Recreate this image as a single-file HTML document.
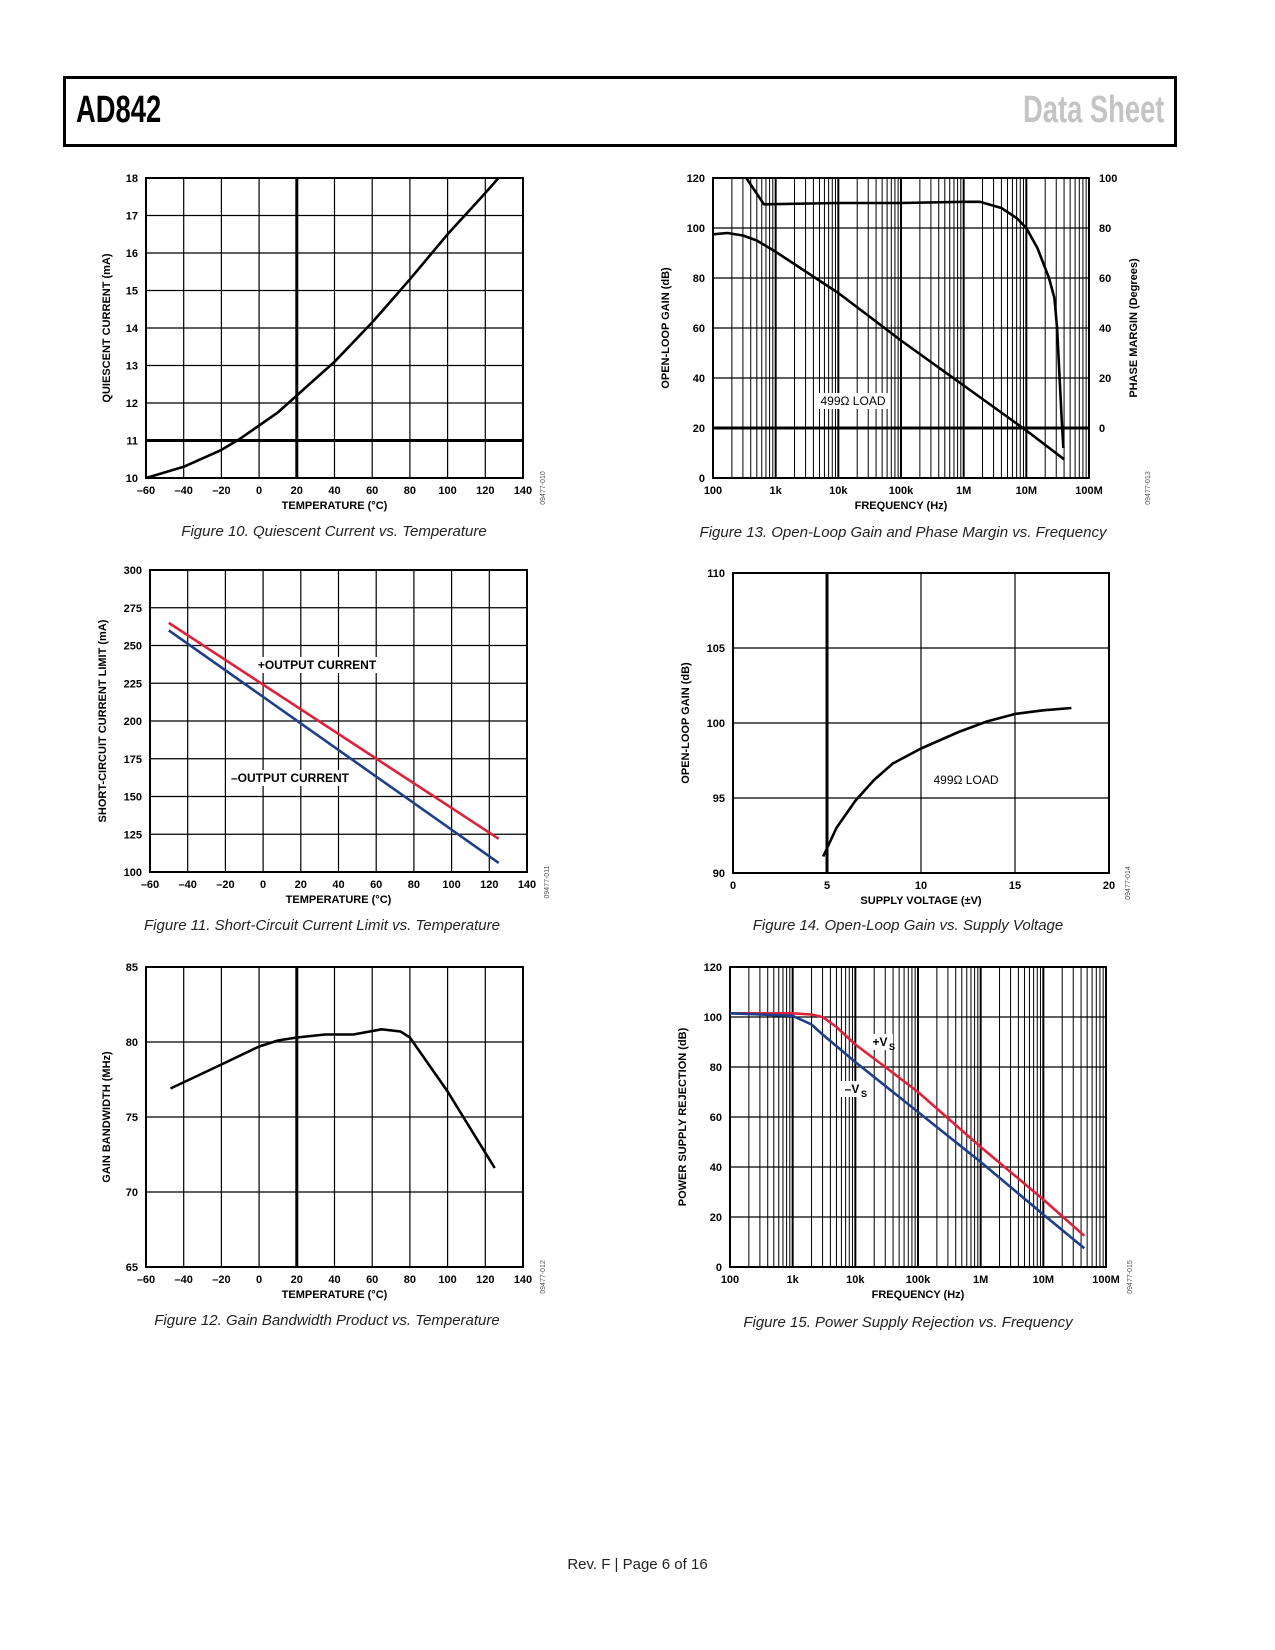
<!DOCTYPE html>
<html><head><meta charset="utf-8"><style>
body{margin:0;background:#fff;width:1275px;height:1650px;position:relative;overflow:hidden;font-family:"Liberation Sans",sans-serif}
#hdr{position:absolute;left:63px;top:76px;width:1108px;height:65px;border:3px solid #000;box-sizing:content-box}
#hdr .l{position:absolute;left:10px;top:10px;font:bold 38px "Liberation Sans Narrow","Liberation Sans",sans-serif;color:#000;transform:scaleX(0.72);transform-origin:left center}
#hdr .r{position:absolute;right:10px;top:10px;font:bold 38px "Liberation Sans Narrow","Liberation Sans",sans-serif;color:#c4c4c4;transform:scaleX(0.72);transform-origin:right center}
#foot{position:absolute;left:0;width:1275px;top:1556px;text-align:center;font-size:15px;color:#222}
svg{position:absolute;left:0;top:0}
</style></head><body>
<div id="hdr"><span class="l">AD842</span><span class="r">Data Sheet</span></div>
<div id="foot">Rev. F | Page 6 of 16</div>
<svg id="s" width="1275" height="1650"></svg>
<script>
// Figure 10
const f10Temp=[-60,-40,-20,-10,0,10,20,30,40,60,80,100,120,127];
const f10Current=[10,10.3,10.75,11.05,11.4,11.75,12.2,12.65,13.1,14.15,15.3,16.5,17.6,18];
// Figure 11
const f11Temp=[-50,125];
const f11Plus=[265,122];
const f11Minus=[260,106];
// Figure 12
const f12Temp=[-47,-20,0,10,20,35,50,65,75,80,100,125];
const f12GBW=[76.9,78.5,79.7,80.1,80.3,80.5,80.5,80.85,80.7,80.3,76.7,71.6];
// Figure 13
const f13GainFreq=[100,170,300,500,1000,1e4,1e5,1e6,1e7,4e7];
const f13Gain=[97.5,98,97,95,90.5,74,55,37,19,7.5];
const f13PhaseFreq=[340,650,1e4,1e5,1e6,1.8e6,4e6,7e6,1e7,1.5e7,2.3e7,2.8e7,3.1e7,3.4e7,3.7e7,3.9e7];
const f13Phase=[100,89.5,90,90,90.5,90.5,88,84,80,72,60,52,40,20,2,-8];
// Figure 14
const f14Volt=[4.8,5.5,6.5,7.5,8.5,10,12,13.5,15,16.5,18];
const f14Gain=[91.1,93,94.8,96.2,97.3,98.3,99.4,100.1,100.6,100.85,101];
// Figure 15
const f15PlusFreq=[100,1000,2000,3000,5000,1e4,3e4,1e5,1e6,1e7,4.5e7];
const f15Plus=[101.5,101.5,101,100,96,89,80,70,48,27,12.5];
const f15MinusFreq=[100,1000,2000,3000,1e4,1e5,1e6,1e7,4.5e7];
const f15Minus=[101.5,100.5,97,93,82,62,42,21,7.5];
const tempTicks=[-60,-40,-20,0,20,40,60,80,100,120,140];
const tempTickLabels=['–60','–40','–20','0','20','40','60','80','100','120','140'];
const freqTickLabels=['100','1k','10k','100k','1M','10M','100M'];

const S=document.getElementById('s');
const NS='http://www.w3.org/2000/svg';
function mk(tag,at,parent){const e=document.createElementNS(NS,tag);for(const k in at)e.setAttribute(k,at[k]);(parent||S).appendChild(e);return e;}
function txt(x,y,s,size,anchor,extra,parent){const t=mk('text',Object.assign({x:x,y:y,'font-size':size,'text-anchor':anchor||'middle','font-family':'Liberation Sans, sans-serif'},extra||{}),parent);t.textContent=s;return t;}

function chart(o){
  const g=mk('g',{});
  
  
  const L=o.L,R=o.R,T=o.T,B=o.B;
  const sx=o.log?(v=>L+(Math.log10(v)-2)/6*(R-L)):(v=>L+(v-o.x0)/(o.x1-o.x0)*(R-L));
  const sy=v=>B-(v-o.y0)/(o.y1-o.y0)*(B-T);
  if(o.log){
    for(let d=0;d<6;d++){for(let m=1;m<10;m++){const x=sx(Math.pow(10,d+2)*m);mk('line',{x1:x,x2:x,y1:T,y2:B,stroke:'#000','stroke-width':m==1?2:1},g);}}
    freqTickLabels.forEach((s,i)=>{const t=txt(sx(Math.pow(10,i+2)),B+16,s,11,'middle',{'font-weight':'bold'},g);});
  } else {
    o.xt.forEach((v,i)=>{const x=sx(v);mk('line',{x1:x,x2:x,y1:T,y2:B,stroke:'#000','stroke-width':v===o.thickX?3:1.2},g);
      const t=txt(x,B+16,o.xl[i],11,'middle',{'font-weight':'bold'},g);});
  }
  for(let v=o.y0;v<=o.y1+1e-9;v+=o.ys){const y=sy(v);mk('line',{x1:L,x2:R,y1:y,y2:y,stroke:'#000','stroke-width':v===o.thickY?3:1.2},g);
    const t=txt(L-8,y+4,String(v),11,'end',{'font-weight':'bold'},g);}
  if(o.rightTicks){o.rightTicks.forEach(v=>{const t=txt(R+10,sy(v+20)+4,String(v),11,'start',{'font-weight':'bold'},g);});
    const rt=txt(0,0,'PHASE MARGIN (Degrees)',11,'middle',{'font-weight':'bold',transform:`translate(${R+48},${(T+B)/2}) rotate(-90)`},g);}
  mk('rect',{x:L,y:T,width:R-L,height:B-T,fill:'none',stroke:'#000','stroke-width':2},g);
  (o.labels||[]).forEach(lb=>{const w=lb.w;mk('rect',{x:lb.x-w/2,y:lb.y-12,width:w,height:16,fill:'#fff'},g);
    const t=txt(lb.x,lb.y,lb.s,lb.size||12,'middle',{'font-weight':lb.bold?'bold':'normal'},g);});
  o.series.forEach(s=>{const pts=s.x.map((v,i)=>sx(v).toFixed(1)+','+sy(s.y[i]+(s.off||0)).toFixed(1)).join(' ');
    const p=mk('polyline',{points:pts,fill:'none',stroke:s.c,'stroke-width':2.6,'stroke-linejoin':'round'},g);
    });
  const xt=txt((L+R)/2,B+31,o.xtitle,11,'middle',{'font-weight':'bold'},g);
  const yt=txt(0,0,o.ytitle,11,'middle',{'font-weight':'bold',transform:`translate(${o.ytx},${(T+B)/2}) rotate(-90)`},g);
  const cd=txt(0,0,o.code,7,'middle',{fill:'#555',transform:`translate(${o.codeX},${B+10}) rotate(-90)`},g);
  const cp=txt(o.capX,o.capY,o.caption,15,'middle',{'font-style':'italic',fill:'#222'},g);
}
chart({name:'figure-10-chart',L:146,R:523,T:178,B:478,x0:-60,x1:140,xt:tempTicks,xl:tempTickLabels,y0:10,y1:18,ys:1,thickY:11,thickX:20,
 series:[{x:f10Temp,y:f10Current,c:'#000',name:'quiescent-current-line'}],xtitle:'TEMPERATURE (°C)',ytitle:'QUIESCENT CURRENT (mA)',ytx:110,code:'09477-010',codeX:545,caption:'Figure 10. Quiescent Current vs. Temperature',capX:334,capY:536});
chart({name:'figure-11-chart',L:150,R:527,T:570,B:872,x0:-60,x1:140,xt:tempTicks,xl:tempTickLabels,y0:100,y1:300,ys:25,
 labels:[{x:317,y:669,s:'+OUTPUT CURRENT',w:124,bold:true},{x:290,y:782,s:'–OUTPUT CURRENT',w:126,bold:true}],
 series:[{x:f11Temp,y:f11Plus,c:'#e0213a',name:'plus-output-current-line'},{x:f11Temp,y:f11Minus,c:'#1d3f8a',name:'minus-output-current-line'}],
 xtitle:'TEMPERATURE (°C)',ytitle:'SHORT-CIRCUIT CURRENT LIMIT (mA)',ytx:106,code:'09477-011',codeX:549,caption:'Figure 11. Short-Circuit Current Limit vs. Temperature',capX:322,capY:930});
chart({name:'figure-12-chart',L:146,R:523,T:967,B:1267,x0:-60,x1:140,xt:tempTicks,xl:tempTickLabels,y0:65,y1:85,ys:5,thickX:20,
 series:[{x:f12Temp,y:f12GBW,c:'#000',name:'gain-bandwidth-line'}],xtitle:'TEMPERATURE (°C)',ytitle:'GAIN BANDWIDTH (MHz)',ytx:110,code:'09477-012',codeX:545,caption:'Figure 12. Gain Bandwidth Product vs. Temperature',capX:327,capY:1325});
chart({name:'figure-13-chart',log:true,L:713,R:1089,T:178,B:478,y0:0,y1:120,ys:20,thickY:20,rightTicks:[0,20,40,60,80,100],
 labels:[{x:853,y:405,s:'499Ω LOAD',w:70}],
 series:[{x:f13GainFreq,y:f13Gain,c:'#000',name:'open-loop-gain-line'},{x:f13PhaseFreq,y:f13Phase,off:20,c:'#000',name:'phase-margin-line'}],
 xtitle:'FREQUENCY (Hz)',ytitle:'OPEN-LOOP GAIN (dB)',ytx:669,code:'09477-013',codeX:1150,caption:'Figure 13. Open-Loop Gain and Phase Margin vs. Frequency',capX:903,capY:537});
chart({name:'figure-14-chart',L:733,R:1109,T:573,B:873,x0:0,x1:20,xt:[0,5,10,15,20],xl:['0','5','10','15','20'],y0:90,y1:110,ys:5,thickX:5,
 labels:[{x:966,y:784,s:'499Ω LOAD',w:72}],
 series:[{x:f14Volt,y:f14Gain,c:'#000',name:'open-loop-gain-vs-supply-line'}],xtitle:'SUPPLY VOLTAGE (±V)',ytitle:'OPEN-LOOP GAIN (dB)',ytx:689,code:'09477-014',codeX:1130,caption:'Figure 14. Open-Loop Gain vs. Supply Voltage',capX:908,capY:930});
chart({name:'figure-15-chart',log:true,L:730,R:1106,T:967,B:1267,y0:0,y1:120,ys:20,
 labels:[{x:880,y:1046,s:'+V',w:26,bold:true},{x:852,y:1093,s:'–V',w:26,bold:true}],
 series:[{x:f15PlusFreq,y:f15Plus,c:'#e0213a',name:'plus-vs-psr-line'},{x:f15MinusFreq,y:f15Minus,c:'#1d3f8a',name:'minus-vs-psr-line'}],
 xtitle:'FREQUENCY (Hz)',ytitle:'POWER SUPPLY REJECTION (dB)',ytx:686,code:'09477-015',codeX:1132,caption:'Figure 15. Power Supply Rejection vs. Frequency',capX:908,capY:1327});
[[889,1050],[861,1097]].forEach(p=>{const t=txt(p[0],p[1],'S',9,'start',{'font-weight':'bold'});});
</script>
</body></html>
